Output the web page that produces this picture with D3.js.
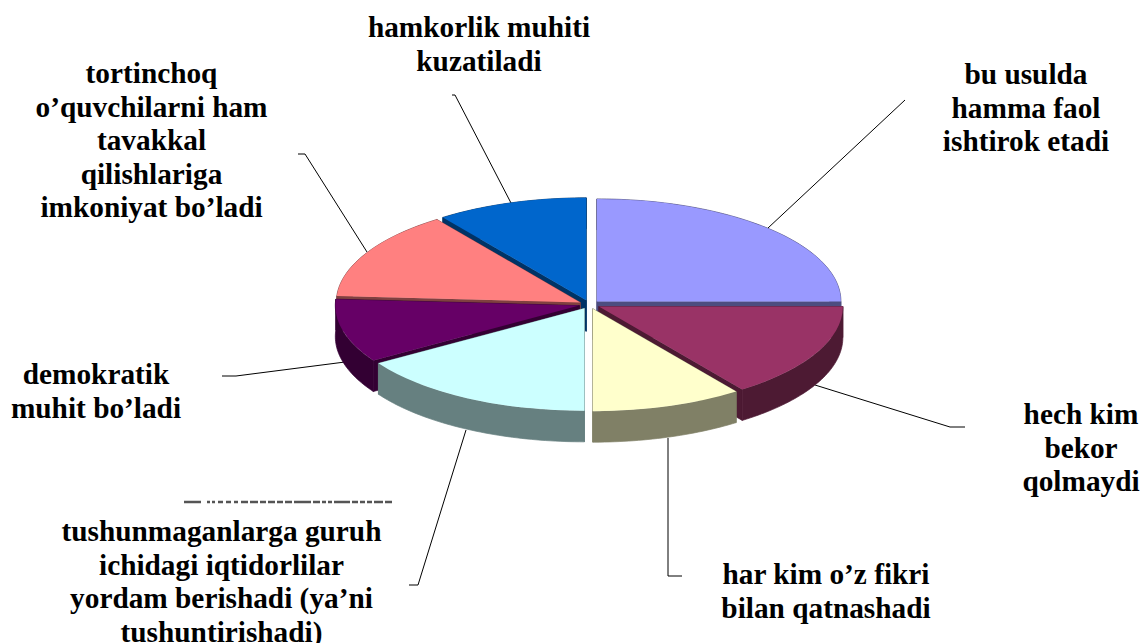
<!DOCTYPE html>
<html>
<head>
<meta charset="utf-8">
<script src="https://cdnjs.cloudflare.com/ajax/libs/d3/7.8.5/d3.min.js"></script>
<style>
    html, body { margin: 0; padding: 0; background: #fff; overflow: hidden; }
    svg { display: block; }
    text { font-family: "Liberation Serif", serif; font-weight: bold; font-size: 29.3px; fill: #000; }
</style>
</head>
<body>
<div id="chart"></div>
<script>
(function () {
    const categories = [
        'bu usulda hamma faol ishtirok etadi',
        'hech kim bekor qolmaydi',
        'har kim o’z fikri bilan qatnashadi',
        'tushunmaganlarga guruh ichidagi iqtidorlilar yordam berishadi (ya’ni tushuntirishadi)',
        'demokratik muhit bo’ladi',
        'tortinchoq o’quvchilarni ham tavakkal qilishlariga imkoniyat bo’ladi',
        'hamkorlik muhiti kuzatiladi'
    ];
    const values = [25, 15, 10, 16, 10, 14, 10];
    const topColors = ['#9999ff', '#993366', '#ffffcc', '#ccffff', '#660066', '#ff8080', '#0066cc'];

    // label lines, one list per slice
    const labelLines = [
        ['bu usulda', 'hamma faol', 'ishtirok etadi'],
        ['hech kim', 'bekor', 'qolmaydi'],
        ['har kim o’z fikri', 'bilan qatnashadi'],
        ['tushunmaganlarga guruh', 'ichidagi iqtidorlilar', 'yordam berishadi (ya’ni', 'tushuntirishadi)'],
        ['demokratik', 'muhit bo’ladi'],
        ['tortinchoq', 'o’quvchilarni ham', 'tavakkal', 'qilishlariga', 'imkoniyat bo’ladi'],
        ['hamkorlik muhiti', 'kuzatiladi']
    ];

    const width = 1141, height = 643;
    const cx = 589.5, cy = 304.5, rx = 244, tilt = 0.42, depth = 31, explode = 10.5;

    // placement of each label block and its leader, same order as the slices
    const labelPlace = [
        { x: 1026, y: 84, leader: [[905, 100], [768, 228]] },
        { x: 1081, y: 424, leader: [[965, 427], [950, 427], [815, 385]] },
        { x: 826, y: 584, leader: [[682, 576], [668, 576], [668, 438]] },
        { x: 221.5, y: 541, leader: [[409, 585], [418, 585], [466, 430]] },
        { x: 96, y: 384, leader: [[222, 376], [236, 376], [345, 362]] },
        { x: 151.5, y: 83, leader: [[298, 154], [305, 154], [367, 252]] },
        { x: 479, y: 37, leader: [[452, 95], [455, 95], [511, 203]] }
    ];
    const lineStep = 33.5;

    const svg = d3.select('#chart').append('svg')
        .attr('width', width)
        .attr('height', height);

    const pie = d3.pie().sort(null).value(d => d);
    const color = d3.scaleOrdinal().domain(categories).range(topColors);
    const wallColor = name => {
        const c = d3.rgb(color(name));
        return d3.rgb(c.r / 2, c.g / 2, c.b / 2).formatHex();
    };

    const slices = pie(values).map((d, i) => {
        const mid = (d.startAngle + d.endAngle) / 2;
        return {
            name: categories[i],
            start: d.startAngle,
            end: d.endAngle,
            arcDatum: d,
            ox: cx + explode * Math.sin(mid),
            oy: cy - explode * Math.cos(mid) * tilt
        };
    });

    const rim = (s, a, drop) => [s.ox + rx * Math.sin(a), s.oy - rx * tilt * Math.cos(a) + drop];
    const line = d3.line();

    function radialWall(s, a) {
        return line([[s.ox, s.oy], rim(s, a, 0), rim(s, a, depth), [s.ox, s.oy + depth]]) + 'Z';
    }
    function outerWall(s) {
        const steps = d3.range(s.start, s.end, 0.02).concat(s.end);
        const top = steps.map(a => rim(s, a, 0));
        const bottom = steps.slice().reverse().map(a => rim(s, a, depth));
        return line(top.concat(bottom)) + 'Z';
    }

    //leaders go under the pie
    svg.append('g').selectAll('path')
        .data(labelPlace)
        .enter().append('path')
        .attr('d', d => line(d.leader))
        .attr('fill', 'none')
        .attr('stroke', '#000')
        .attr('stroke-width', 1);

    //back slices first, front slices cover them
    const paintOrder = [0, 6, 5, 4, 1, 3, 2];
    const arc = d3.arc().innerRadius(0).outerRadius(rx);

    const sliceG = svg.append('g').selectAll('g')
        .data(paintOrder.map(i => slices[i]))
        .enter().append('g');

    sliceG.each(function (s) {
        const g = d3.select(this);
        const wall = wallColor(s.name);
        [radialWall(s, s.start), radialWall(s, s.end), outerWall(s)].forEach(p => {
            g.append('path')
                .attr('d', p)
                .attr('fill', wall)
                .attr('stroke', wall)
                .attr('stroke-width', 0.7);
        });
        g.append('path')
            .attr('d', arc(s.arcDatum))
            .attr('transform', `translate(${s.ox},${s.oy}) scale(1,${tilt})`)
            .attr('fill', color(s.name));
    });

    //the broken sliver above the lower left label
    svg.append('path')
        .attr('d', line([[184, 502], [397, 502]]))
        .attr('fill', 'none')
        .attr('stroke', '#555')
        .attr('stroke-width', 2.5)
        .attr('stroke-dasharray', '17 6 3 2 3 3 5 3 5 3 4 3 7 2 8 2 6 2 7 2 6 2 7 2 17 2 7 2 4 2 4 2 16 2 6 2 5 2 5 2 9 2 7');

    //labels
    const labelG = svg.append('g').selectAll('text')
        .data(labelLines)
        .enter().append('text')
        .attr('text-anchor', 'middle')
        .attr('x', (d, i) => labelPlace[i].x)
        .attr('y', (d, i) => labelPlace[i].y);

    labelG.selectAll('tspan')
        .data((d, i) => d.map(t => ({ t, x: labelPlace[i].x })))
        .enter().append('tspan')
        .attr('x', d => d.x)
        .attr('dy', (d, i) => i === 0 ? 0 : lineStep)
        .text(d => d.t);
})();
</script>
</body>
</html>
